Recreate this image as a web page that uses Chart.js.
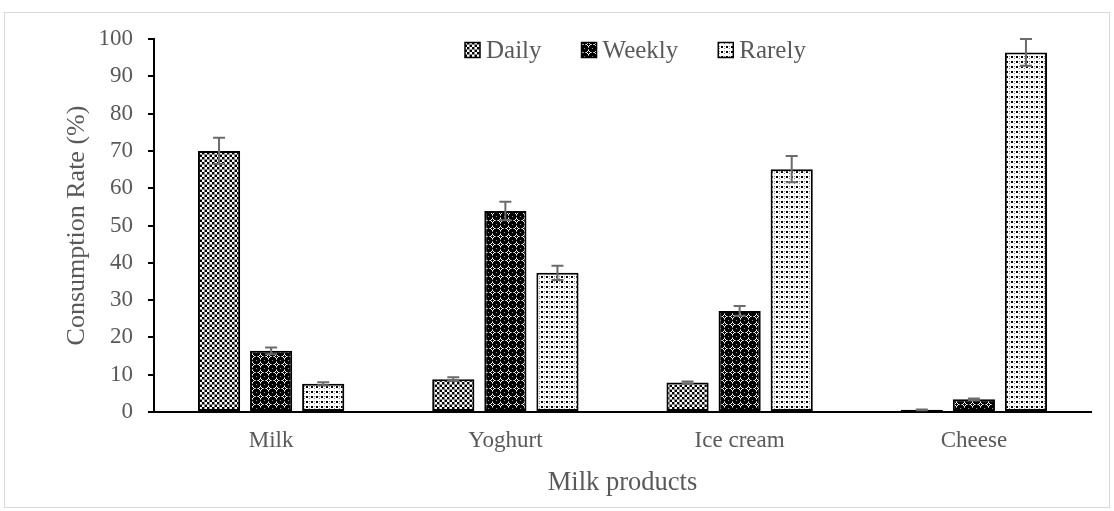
<!DOCTYPE html>
<html>
<head>
<meta charset="utf-8">
<script src="https://cdn.jsdelivr.net/npm/chart.js@4.4.1/dist/chart.umd.min.js"></script>
<style>
  html, body { margin: 0; padding: 0; background: #fff; }
  #wrap { width: 1114px; height: 511px; position: relative; }
</style>
</head>
<body>
<div id="wrap"><canvas id="c" width="1114" height="511"></canvas></div>
<script>
// Consumption frequency of milk products (%), with error bars
const categories = ['Milk', 'Yoghurt', 'Ice cream', 'Cheese'];
const seriesNames = ['Daily', 'Weekly', 'Rarely'];
const daily      = [70.0, 8.8, 7.9, 0.6];
const dailyErr   = [3.5, 0.5, 0.3, 0.1];
const weekly     = [16.4, 53.9, 27.1, 3.4];
const weeklyErr  = [0.9, 2.5, 1.3, 0.2];
const rarely     = [7.6, 37.3, 65.1, 96.4];
const rarelyErr  = [0.4, 1.9, 3.5, 3.6];
const yTicks     = [0, 10, 20, 30, 40, 50, 60, 70, 80, 90, 100];

const SERIF = '"Liberation Serif", "Times New Roman", serif';
const TEXT = '#595959';

// ---- fill patterns ----
function makeTile(size, paint) {
  const c = document.createElement('canvas');
  c.width = c.height = size;
  const g = c.getContext('2d');
  paint(g, size);
  return document.createElement('canvas').getContext('2d').createPattern(c, 'repeat');
}
function px(g, x, y, col) { g.fillStyle = col; g.fillRect(x, y, 1, 1); }

// small checkerboard
const patDaily = makeTile(5, (g) => {
  g.fillStyle = '#fff'; g.fillRect(0, 0, 5, 5);
  for (let y = 0; y < 4; y++) for (let x = 0; x < 4; x++) {
    if (((x >> 1) + (y >> 1)) % 2 === 0) px(g, x, y, '#000');
  }
  for (let i = 0; i < 5; i++) { px(g, 4, i, '#8c8c8c'); px(g, i, 4, '#8c8c8c'); }
});
// dark diamonds
const patWeekly = makeTile(8, (g) => {
  g.fillStyle = '#000'; g.fillRect(0, 0, 8, 8);
  for (let y = 0; y < 8; y++) for (let x = 0; x < 8; x++) {
    const d = Math.abs(x - 4) + Math.abs(y - 4);
    if (d === 2) px(g, x, y, '#fff');
    else if (d === 3 && (x === 4 || y === 4)) px(g, x, y, '#9a9a9a');
  }
  px(g, 0, 0, '#9a9a9a');
});
// dotted grid
const patRarely = makeTile(5, (g) => {
  g.fillStyle = '#fff'; g.fillRect(0, 0, 5, 5);
  g.fillStyle = '#000'; g.fillRect(1, 1, 2, 2);
  px(g, 4, 1, '#8a8a8a'); px(g, 4, 3, '#8a8a8a');
});

const patterns = [patDaily, patWeekly, patRarely];
const errors = [dailyErr, weeklyErr, rarelyErr];

// ---- plugins ----
const frame = {
  id: 'frame',
  beforeDraw(chart) {
    const ctx = chart.ctx;
    ctx.save();
    ctx.fillStyle = '#fff';
    ctx.fillRect(0, 0, chart.width, chart.height);
    ctx.strokeStyle = '#d9d9d9';
    ctx.lineWidth = 1;
    ctx.strokeRect(4.5, 12.5, chart.width - 9, chart.height - 16);
    ctx.restore();
  }
};

const errorBars = {
  id: 'errorBars',
  afterDatasetsDraw(chart) {
    const ctx = chart.ctx;
    const y = chart.scales.y;
    const area = chart.chartArea;
    ctx.save();
    ctx.beginPath();
    ctx.rect(area.left, area.top - 1, area.right - area.left, area.bottom - area.top + 1);
    ctx.clip();
    ctx.strokeStyle = '#6b6b6b';
    ctx.lineWidth = 2;
    chart.data.datasets.forEach((ds, di) => {
      const meta = chart.getDatasetMeta(di);
      meta.data.forEach((bar, i) => {
        const v = ds.data[i], e = errors[di][i];
        const yHi = y.getPixelForValue(v + e);
        const yLo = y.getPixelForValue(v - e);
        const cap = 6;
        ctx.beginPath();
        ctx.moveTo(bar.x, yLo); ctx.lineTo(bar.x, yHi);
        ctx.moveTo(bar.x - cap, yHi); ctx.lineTo(bar.x + cap, yHi);
        ctx.moveTo(bar.x - cap, yLo); ctx.lineTo(bar.x + cap, yLo);
        ctx.stroke();
      });
    });
    ctx.restore();
  }
};

const topLegend = {
  id: 'topLegend',
  afterDraw(chart) {
    const ctx = chart.ctx;
    const area = chart.chartArea;
    ctx.save();
    ctx.font = '25px ' + SERIF;
    const box = 15, gapText = 6, gapItem = 40;
    const widths = seriesNames.map(n => ctx.measureText(n).width);
    const total = widths.reduce((a, w) => a + box + gapText + w, 0) + gapItem * (seriesNames.length - 1);
    let x = Math.round((area.left + area.right) / 2 + 13 - total / 2);
    const cy = 50;
    ctx.textBaseline = 'middle';
    seriesNames.forEach((n, i) => {
      ctx.fillStyle = patterns[i];
      ctx.fillRect(x, cy - box / 2, box, box);
      ctx.strokeStyle = '#000';
      ctx.lineWidth = 1.5;
      ctx.strokeRect(x, cy - box / 2, box, box);
      ctx.fillStyle = TEXT;
      ctx.fillText(n, x + box + gapText, cy + 1);
      x += box + gapText + widths[i] + gapItem;
    });
    ctx.restore();
  }
};

const dataSets = [daily, weekly, rarely];

new Chart(document.getElementById('c'), {
  type: 'bar',
  data: {
    labels: categories,
    datasets: seriesNames.map((name, i) => ({
      label: name,
      data: dataSets[i],
      backgroundColor: patterns[i],
      borderColor: '#000',
      borderWidth: 2,
      borderSkipped: false,
      categoryPercentage: 0.667,
      barPercentage: 0.81
    }))
  },
  options: {
    responsive: false,
    devicePixelRatio: 1,
    animation: false,
    layout: { padding: { left: 0, right: 23, top: 39, bottom: 0 } },
    plugins: {
      legend: { display: false },
      tooltip: { enabled: false }
    },
    scales: {
      x: {
        grid: { display: false, drawTicks: false },
        border: { display: true, color: '#000', width: 2 },
        ticks: { color: TEXT, font: { family: SERIF, size: 23 }, padding: 15 },
        title: {
          display: true, text: 'Milk products', color: TEXT,
          font: { family: SERIF, size: 26.5 }, padding: { top: 0, bottom: 12 }
        },
        afterFit(s) { s.height = 99; }
      },
      y: {
        min: 0, max: 100,
        afterBuildTicks(s) { s.ticks = yTicks.map(v => ({ value: v })); },
        grid: { display: true, drawOnChartArea: false, drawTicks: true, tickLength: 6, color: '#000', lineWidth: 2 },
        border: { display: true, color: '#000', width: 2 },
        ticks: { color: TEXT, font: { family: SERIF, size: 23 }, padding: 15 },
        title: {
          display: true, text: 'Consumption Rate (%)', color: TEXT,
          font: { family: SERIF, size: 26 }, padding: { top: 62, bottom: 0 }
        },
        afterFit(s) { s.width = 154; }
      }
    }
  },
  plugins: [frame, errorBars, topLegend]
});
</script>
</body>
</html>
